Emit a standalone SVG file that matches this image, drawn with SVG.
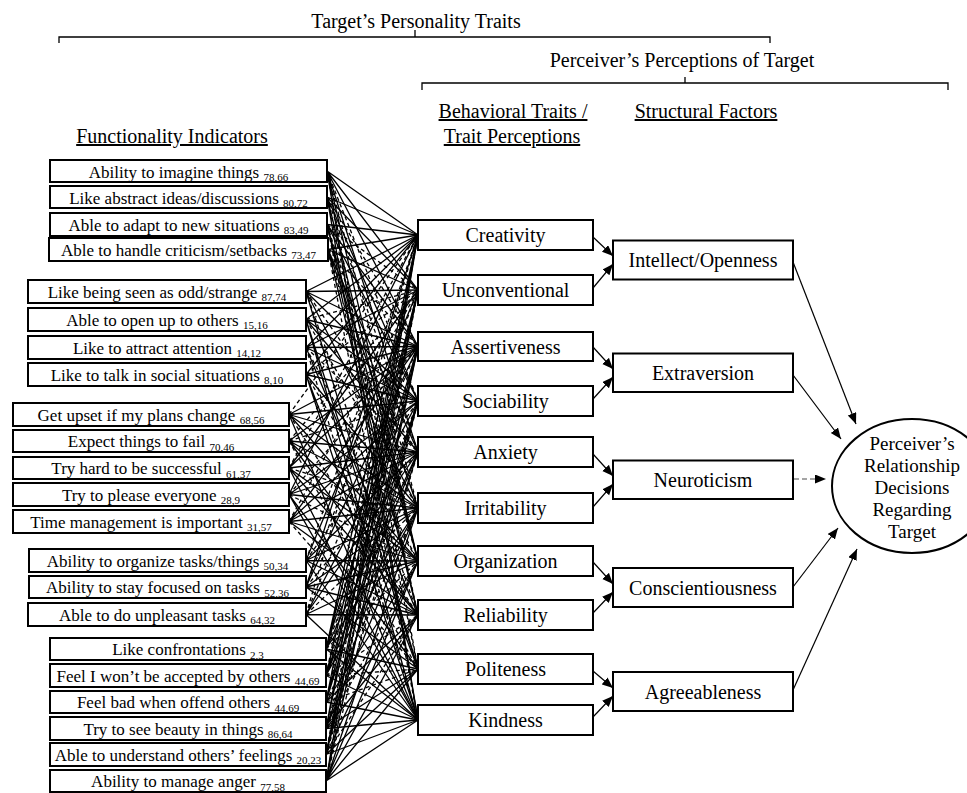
<svg xmlns="http://www.w3.org/2000/svg" width="967" height="793" viewBox="0 0 967 793">
<style>
text{font-family:"Liberation Serif","Times New Roman",serif;fill:#000}
.h{font-size:20px}
.u{text-decoration:underline}
.lt{font-size:17px;text-anchor:middle}
.sub{font-size:11px}
.mt{font-size:20px;text-anchor:middle}
.et{font-size:19px;text-anchor:middle}
.box{fill:#fff;stroke:#000;stroke-width:2}
.br{fill:none;stroke:#000;stroke-width:1.3}
.c{fill:none;stroke:#000;stroke-width:1.3}
.d{stroke-dasharray:4 3}
.a{fill:none;stroke:#000;stroke-width:1.2}
.g{fill:none;stroke:#888;stroke-width:1.5;stroke-dasharray:5 3}
</style>
<defs>
<marker id="ah" markerUnits="userSpaceOnUse" markerWidth="12" markerHeight="10" refX="11" refY="4.5" orient="auto"><path d="M0,0 L11,4.5 L0,9 z" fill="#000"/></marker>
<marker id="ahs" markerUnits="userSpaceOnUse" markerWidth="12" markerHeight="10" refX="11" refY="4.5" orient="auto"><path d="M0,0 L11,4.5 L0,9 z" fill="#000"/></marker>
</defs>
<rect width="967" height="793" fill="#fff"/>

<g id="headings">
<text class="h" x="416" y="28" text-anchor="middle">Target’s Personality Traits</text>
<path class="br" d="M59,43 V37 H770 V43 M415,37 V30"/>
<text class="h" x="682" y="67" text-anchor="middle">Perceiver’s Perceptions of Target</text>
<path class="br" d="M422,90 V83 H948 V90 M685,83 V77"/>
<text class="h u" x="513" y="118" text-anchor="middle">Behavioral Traits /</text>
<text class="h u" x="512" y="143" text-anchor="middle">Trait Perceptions</text>
<text class="h u" x="706" y="118" text-anchor="middle">Structural Factors</text>
<text class="h u" x="172" y="143" text-anchor="middle">Functionality Indicators</text>
</g>

<g id="connectors">
<path class="c" d="M327 171L418 235M327 171L418 290M327 171L418 346.5M327 171L418 452M327 171L418 561M327 171L418 720"/>
<path class="c d" d="M327 171L418 401M327 171L418 508M327 171L418 669"/>
<path class="c" d="M327 197L418 235M327 197L418 290M327 197L418 401M327 197L418 561M327 197L418 720"/>
<path class="c d" d="M327 197L418 346.5M327 197L418 452M327 197L418 615"/>
<path class="c" d="M327 224.5L418 235M327 224.5L418 346.5M327 224.5L418 401M327 224.5L418 561M327 224.5L418 615"/>
<path class="c d" d="M327 224.5L418 290M327 224.5L418 508M327 224.5L418 669"/>
<path class="c" d="M328 249.5L418 235M328 249.5L418 290M328 249.5L418 452M328 249.5L418 508M328 249.5L418 615"/>
<path class="c d" d="M328 249.5L418 346.5M328 249.5L418 561M328 249.5L418 720"/>
<path class="c" d="M306 291.5L418 235M306 291.5L418 290M306 291.5L418 346.5M306 291.5L418 401M306 291.5L418 508M306 291.5L418 669"/>
<path class="c d" d="M306 291.5L418 452M306 291.5L418 615"/>
<path class="c" d="M306 319.5L418 235M306 319.5L418 346.5M306 319.5L418 401M306 319.5L418 452M306 319.5L418 669M306 319.5L418 720"/>
<path class="c d" d="M306 319.5L418 290M306 319.5L418 508"/>
<path class="c" d="M306 347.5L418 235M306 347.5L418 290M306 347.5L418 346.5M306 347.5L418 401M306 347.5L418 615"/>
<path class="c d" d="M306 347.5L418 452M306 347.5L418 561M306 347.5L418 720"/>
<path class="c" d="M306 374.5L418 235M306 374.5L418 346.5M306 374.5L418 401M306 374.5L418 508M306 374.5L418 669M306 374.5L418 720"/>
<path class="c d" d="M306 374.5L418 290M306 374.5L418 561"/>
<path class="c" d="M289 414.5L418 346.5M289 414.5L418 401M289 414.5L418 452M289 414.5L418 508M289 414.5L418 561M289 414.5L418 720"/>
<path class="c d" d="M289 414.5L418 235M289 414.5L418 615"/>
<path class="c" d="M289 441L418 346.5M289 441L418 452M289 441L418 508M289 441L418 561M289 441L418 615"/>
<path class="c d" d="M289 441L418 290M289 441L418 401M289 441L418 669"/>
<path class="c" d="M289 468L418 290M289 468L418 346.5M289 468L418 452M289 468L418 561M289 468L418 615M289 468L418 720"/>
<path class="c d" d="M289 468L418 235M289 468L418 508"/>
<path class="c" d="M289 494.5L418 235M289 494.5L418 401M289 494.5L418 452M289 494.5L418 508M289 494.5L418 669M289 494.5L418 720"/>
<path class="c d" d="M289 494.5L418 346.5M289 494.5L418 561"/>
<path class="c" d="M289 521.5L418 346.5M289 521.5L418 401M289 521.5L418 452M289 521.5L418 508M289 521.5L418 561M289 521.5L418 615"/>
<path class="c d" d="M289 521.5L418 290M289 521.5L418 669"/>
<path class="c" d="M306 560.5L418 290M306 560.5L418 452M306 560.5L418 508M306 560.5L418 561M306 560.5L418 615M306 560.5L418 720"/>
<path class="c d" d="M306 560.5L418 235M306 560.5L418 401"/>
<path class="c" d="M306 587L418 235M306 587L418 346.5M306 587L418 508M306 587L418 561M306 587L418 615M306 587L418 669"/>
<path class="c d" d="M306 587L418 290M306 587L418 452"/>
<path class="c" d="M306 614.5L418 401M306 614.5L418 452M306 614.5L418 561M306 614.5L418 615M306 614.5L418 720"/>
<path class="c d" d="M306 614.5L418 235M306 614.5L418 346.5M306 614.5L418 508"/>
<path class="c" d="M326 649L418 235M326 649L418 290M326 649L418 346.5M326 649L418 452M326 649L418 508M326 649L418 669M326 649L418 720"/>
<path class="c d" d="M326 649L418 401M326 649L418 561"/>
<path class="c" d="M326 675.5L418 290M326 675.5L418 401M326 675.5L418 452M326 675.5L418 508M326 675.5L418 720"/>
<path class="c d" d="M326 675.5L418 235M326 675.5L418 346.5M326 675.5L418 615M326 675.5L418 669"/>
<path class="c" d="M326 702L418 235M326 702L418 346.5M326 702L418 401M326 702L418 561M326 702L418 615M326 702L418 720"/>
<path class="c d" d="M326 702L418 290M326 702L418 508M326 702L418 669"/>
<path class="c" d="M326 728.5L418 235M326 728.5L418 290M326 728.5L418 452M326 728.5L418 508M326 728.5L418 615M326 728.5L418 669M326 728.5L418 720"/>
<path class="c d" d="M326 728.5L418 401M326 728.5L418 561"/>
<path class="c" d="M326 754.5L418 290M326 754.5L418 346.5M326 754.5L418 401M326 754.5L418 561M326 754.5L418 669M326 754.5L418 720"/>
<path class="c d" d="M326 754.5L418 235M326 754.5L418 452M326 754.5L418 615"/>
<path class="c" d="M326 781L418 235M326 781L418 346.5M326 781L418 508M326 781L418 561M326 781L418 615M326 781L418 669M326 781L418 720"/>
<path class="c d" d="M326 781L418 290M326 781L418 401"/>

<line class="a" x1="593" y1="237" x2="613" y2="256" marker-end="url(#ahs)"/>
<line class="a" x1="593" y1="288" x2="613" y2="264" marker-end="url(#ahs)"/>
<line class="a" x1="593" y1="347" x2="613" y2="369" marker-end="url(#ahs)"/>
<line class="a" x1="593" y1="399" x2="613" y2="377" marker-end="url(#ahs)"/>
<line class="a" x1="593" y1="454" x2="613" y2="476" marker-end="url(#ahs)"/>
<line class="a" x1="593" y1="507" x2="613" y2="484" marker-end="url(#ahs)"/>
<line class="a" x1="593" y1="562" x2="613" y2="584" marker-end="url(#ahs)"/>
<line class="a" x1="593" y1="613" x2="613" y2="592" marker-end="url(#ahs)"/>
<line class="a" x1="593" y1="671" x2="613" y2="688" marker-end="url(#ahs)"/>
<line class="a" x1="593" y1="717" x2="613" y2="696" marker-end="url(#ahs)"/>

<line class="a" x1="793" y1="262" x2="856" y2="424" marker-end="url(#ah)"/>
<line class="a" x1="793" y1="375" x2="841" y2="439" marker-end="url(#ah)"/>
<line class="g" x1="794" y1="479" x2="826" y2="479" marker-end="url(#ah)"/>
<line class="a" x1="793" y1="587" x2="838" y2="528" marker-end="url(#ah)"/>
<line class="a" x1="793" y1="690" x2="857" y2="549" marker-end="url(#ah)"/>
</g>

<g id="indicators">
<g id="fi1"><rect class="box" x="50" y="160" width="277" height="22"/><text class="lt" x="188.5" y="177.5">Ability to imagine things <tspan class="sub" dy="3.5">78,66</tspan></text></g>
<g id="fi2"><rect class="box" x="50" y="186" width="277" height="22"/><text class="lt" x="188.5" y="203.5">Like abstract ideas/discussions <tspan class="sub" dy="3.5">80,72</tspan></text></g>
<g id="fi3"><rect class="box" x="50" y="213" width="277" height="23"/><text class="lt" x="188.5" y="230.5">Able to adapt to new situations <tspan class="sub" dy="3.5">83,49</tspan></text></g>
<g id="fi4"><rect class="box" x="49" y="238" width="279" height="23"/><text class="lt" x="188.5" y="255.5">Able to handle criticism/setbacks <tspan class="sub" dy="3.5">73,47</tspan></text></g>
<g id="fi5"><rect class="box" x="28" y="280" width="278" height="23"/><text class="lt" x="167" y="297.5">Like being seen as odd/strange <tspan class="sub" dy="3.5">87,74</tspan></text></g>
<g id="fi6"><rect class="box" x="28" y="308" width="278" height="23"/><text class="lt" x="167" y="325.5">Able to open up to others <tspan class="sub" dy="3.5">15,16</tspan></text></g>
<g id="fi7"><rect class="box" x="28" y="336" width="278" height="23"/><text class="lt" x="167" y="353.5">Like to attract attention <tspan class="sub" dy="3.5">14,12</tspan></text></g>
<g id="fi8"><rect class="box" x="28" y="363" width="278" height="23"/><text class="lt" x="167" y="380.5">Like to talk in social situations <tspan class="sub" dy="3.5">8,10</tspan></text></g>
<g id="fi9"><rect class="box" x="13" y="403" width="276" height="23"/><text class="lt" x="151" y="420.5">Get upset if my plans change <tspan class="sub" dy="3.5">68,56</tspan></text></g>
<g id="fi10"><rect class="box" x="13" y="430" width="276" height="22"/><text class="lt" x="151" y="447">Expect things to fail <tspan class="sub" dy="3.5">70,46</tspan></text></g>
<g id="fi11"><rect class="box" x="13" y="457" width="276" height="22"/><text class="lt" x="151" y="474">Try hard to be successful <tspan class="sub" dy="3.5">61,37</tspan></text></g>
<g id="fi12"><rect class="box" x="13" y="483" width="276" height="23"/><text class="lt" x="151" y="500.5">Try to please everyone <tspan class="sub" dy="3.5">28,9</tspan></text></g>
<g id="fi13"><rect class="box" x="13" y="510" width="276" height="23"/><text class="lt" x="151" y="527.5">Time management is important <tspan class="sub" dy="3.5">31,57</tspan></text></g>
<g id="fi14"><rect class="box" x="29" y="549" width="277" height="23"/><text class="lt" x="167.5" y="566.5">Ability to organize tasks/things <tspan class="sub" dy="3.5">50,34</tspan></text></g>
<g id="fi15"><rect class="box" x="29" y="576" width="277" height="22"/><text class="lt" x="167.5" y="593">Ability to stay focused on tasks <tspan class="sub" dy="3.5">52,36</tspan></text></g>
<g id="fi16"><rect class="box" x="28" y="603" width="278" height="23"/><text class="lt" x="167" y="620.5">Able to do unpleasant tasks <tspan class="sub" dy="3.5">64,32</tspan></text></g>
<g id="fi17"><rect class="box" x="50" y="638" width="276" height="22"/><text class="lt" x="188" y="655">Like confrontations <tspan class="sub" dy="3.5">2,3</tspan></text></g>
<g id="fi18"><rect class="box" x="50" y="664" width="276" height="23"/><text class="lt" x="188" y="681.5">Feel I won’t be accepted by others <tspan class="sub" dy="3.5">44,69</tspan></text></g>
<g id="fi19"><rect class="box" x="50" y="691" width="276" height="22"/><text class="lt" x="188" y="708">Feel bad when offend others <tspan class="sub" dy="3.5">44,69</tspan></text></g>
<g id="fi20"><rect class="box" x="50" y="717" width="276" height="23"/><text class="lt" x="188" y="734.5">Try to see beauty in things <tspan class="sub" dy="3.5">86,64</tspan></text></g>
<g id="fi21"><rect class="box" x="50" y="743" width="276" height="23"/><text class="lt" x="188" y="760.5">Able to understand others’ feelings <tspan class="sub" dy="3.5">20,23</tspan></text></g>
<g id="fi22"><rect class="box" x="50" y="770" width="276" height="22"/><text class="lt" x="188" y="787">Ability to manage anger <tspan class="sub" dy="3.5">77,58</tspan></text></g>
</g>

<g id="traits">
<g id="t-creativity"><rect class="box" x="418" y="220" width="175" height="30"/><text class="mt" x="505.5" y="242">Creativity</text></g>
<g id="t-unconventional"><rect class="box" x="418" y="275" width="175" height="30"/><text class="mt" x="505.5" y="297">Unconventional</text></g>
<g id="t-assertiveness"><rect class="box" x="418" y="332" width="175" height="29"/><text class="mt" x="505.5" y="353.5">Assertiveness</text></g>
<g id="t-sociability"><rect class="box" x="418" y="386" width="175" height="30"/><text class="mt" x="505.5" y="408">Sociability</text></g>
<g id="t-anxiety"><rect class="box" x="418" y="437" width="175" height="30"/><text class="mt" x="505.5" y="459">Anxiety</text></g>
<g id="t-irritability"><rect class="box" x="418" y="493" width="175" height="30"/><text class="mt" x="505.5" y="515">Irritability</text></g>
<g id="t-organization"><rect class="box" x="418" y="546" width="175" height="30"/><text class="mt" x="505.5" y="568">Organization</text></g>
<g id="t-reliability"><rect class="box" x="418" y="600" width="175" height="30"/><text class="mt" x="505.5" y="622">Reliability</text></g>
<g id="t-politeness"><rect class="box" x="418" y="654" width="175" height="30"/><text class="mt" x="505.5" y="676">Politeness</text></g>
<g id="t-kindness"><rect class="box" x="418" y="705" width="175" height="30"/><text class="mt" x="505.5" y="727">Kindness</text></g>
</g>

<g id="factors">
<g id="f-openness"><rect class="box" x="613" y="240.5" width="180" height="39"/><text class="mt" x="703" y="267">Intellect/Openness</text></g>
<g id="f-extraversion"><rect class="box" x="613" y="353.5" width="180" height="38.5"/><text class="mt" x="703" y="380">Extraversion</text></g>
<g id="f-neuroticism"><rect class="box" x="613" y="460.5" width="180" height="38.5"/><text class="mt" x="703" y="487">Neuroticism</text></g>
<g id="f-conscientiousness"><rect class="box" x="613" y="568" width="180" height="39"/><text class="mt" x="703" y="594.5">Conscientiousness</text></g>
<g id="f-agreeableness"><rect class="box" x="613" y="672" width="180" height="39"/><text class="mt" x="703" y="698.5">Agreeableness</text></g>
</g>

<g id="outcome">
<ellipse cx="912" cy="486" rx="80" ry="67" fill="#fff" stroke="#000" stroke-width="2"/>
<text class="et" x="912" y="450">Perceiver’s</text>
<text class="et" x="912" y="472">Relationship</text>
<text class="et" x="912" y="494">Decisions</text>
<text class="et" x="912" y="516">Regarding</text>
<text class="et" x="912" y="538">Target</text>
</g>
</svg>
